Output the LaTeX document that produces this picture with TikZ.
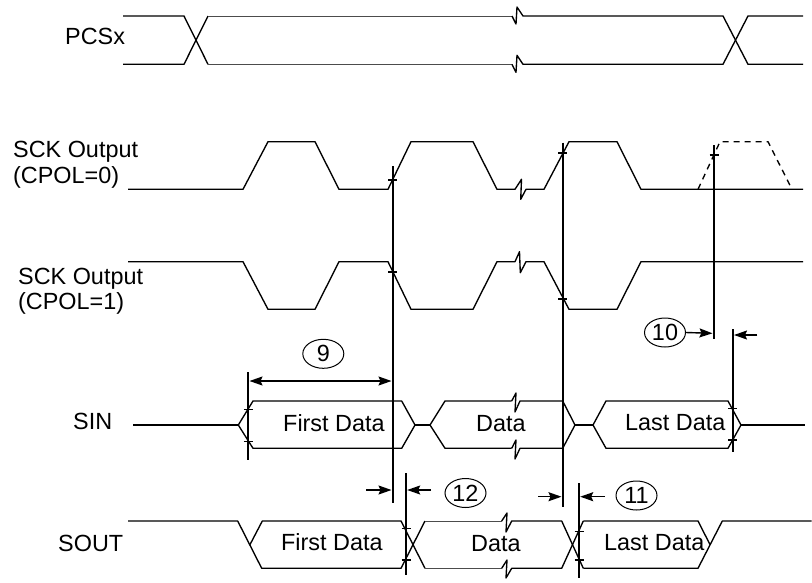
\documentclass[tikz,border=0pt]{standalone}
\usepackage{fontspec}
\setmainfont{Liberation Sans}
\usetikzlibrary{arrows.meta,shapes.geometric}
\tikzset{
  sig/.style={line width=1.35pt, line join=round},
  thin/.style={line width=1pt, line join=round, black!70},
  vline/.style={line width=1.8pt},
  tickm/.style={line width=1.3pt},
  dimarr/.style={line width=1.4pt, -{Stealth[length=13pt,width=9pt,inset=2pt]}},
  dimboth/.style={line width=1.4pt, {Stealth[length=13pt,width=9pt,inset=2pt]}-{Stealth[length=13pt,width=9pt,inset=2pt]}},
  num/.style={ellipse, draw, line width=1pt, minimum width=41pt, minimum height=29pt, inner sep=0pt, font=\fontsize{23.4}{27}\selectfont},
  lbl/.style={anchor=base west, inner sep=0pt, font=\fontsize{23.4}{28}\selectfont},
}
\begin{document}
\begin{tikzpicture}[x=1pt,y=-1pt]
\useasboundingbox (0,0) rectangle (812,582);
% ---------- labels ----------
\node[lbl] (lpcs) at (65,44) {PCSx};
\node[lbl] (lsck0a) at (13,157) {SCK Output};
\node[lbl] (lsck0b) at (13,183) {(CPOL=0)};
\node[lbl] (lsck1a) at (18,284) {SCK Output};
\node[lbl] (lsck1b) at (18,309) {(CPOL=1)};
\node[lbl] (lsin) at (73,429.5) {SIN};
\node[lbl] (lsout) at (58,551.5) {SOUT};
% ---------- PCSx ----------
\draw[sig] (123,16) -- (184,16) -- (208,64.3);
\draw[sig] (123,64.3) -- (184,64.3) -- (208,16);
\draw[thin] (208,16) -- (512,16);
\draw[thin] (208,64.3) -- (512,64.3);
\draw[sig] (512,16) -- (516,24) -- (517,7) -- (523,16) -- (723,16) -- (748,64.3) -- (803,64.3);
\draw[sig] (512,64.3) -- (516,72.3) -- (517,55.3) -- (523,64.3) -- (723,64.3) -- (748,16) -- (803,16);
% ---------- SCK CPOL=0 ----------
\draw[sig] (128,189.3) -- (243,189.3) -- (268,141.7) -- (315,141.7) -- (339,189.3) -- (388,189.3)
  -- (411,141.7) -- (473,141.7) -- (497,189.3) -- (515,189.3) -- (521.5,179.3) -- (520.7,199.3)
  -- (526,189.3) -- (544,189.3) -- (569,141.7) -- (617,141.7) -- (641,189.3) -- (803,189.3);
\draw[sig, dashed, dash pattern=on 6pt off 5pt] (698,189.3) -- (720,141.7) -- (768,141.7) -- (792,189.3);
% ---------- SCK CPOL=1 ----------
\draw[sig] (128,261.7) -- (243,261.7) -- (268,309.3) -- (315,309.3) -- (339,261.7) -- (388,261.7)
  -- (411,309.3) -- (473,309.3) -- (497,261.7) -- (515,261.7) -- (519.5,251.7) -- (520.3,272.7)
  -- (526,261.7) -- (544,261.7) -- (569,309.3) -- (617,309.3) -- (641,261.7) -- (803,261.7);
% ---------- SIN ----------
\draw[sig] (133,425) -- (238.3,425);
\draw[sig] (238.3,425) -- (253,401) -- (401.7,401) -- (415,425) -- (401.7,448.3) -- (253,448.3) -- cycle;
\node[lbl] (sin1) at (283,431.5) {First Data};
\draw[sig] (415,425) -- (430,425);
\draw[sig] (511.7,401) -- (445,401) -- (430,425) -- (445,448.3) -- (511.7,448.3);
\draw[sig] (511.7,401) -- (516,393) -- (515,412) -- (520,401) -- (562.7,401) -- (575,425)
  -- (562.7,448.3) -- (520,448.3) -- (515,459) -- (516,440) -- (511.7,448.3);
\node[lbl] (sin2) at (476,431.5) {Data};
\draw[sig] (575,425) -- (593,425);
\draw[sig] (593,425) -- (606,401) -- (728,401) -- (741,425) -- (728,448.3) -- (606,448.3) -- cycle;
\node[lbl] (sin3) at (625,430.5) {Last Data};
\draw[sig] (741,425) -- (805,425);
% ---------- SOUT ----------
\draw[sig] (128,521) -- (237.7,521) -- (261.7,568.3) -- (401,568.3) -- (425,521);
\draw[sig] (250,544.6) -- (262.3,521) -- (401,521) -- (425,568.3);
\node[lbl] (sout1) at (281,550.5) {First Data};
\draw[thin] (425,521) -- (501.7,521);
\draw[thin] (425,568.3) -- (501.7,568.3);
\draw[sig] (501.7,521) -- (507,513) -- (506,532) -- (511.7,521) -- (561.7,521) -- (583.3,568.3);
\draw[sig] (501.7,568.3) -- (507,560) -- (506,578) -- (511.7,568.3) -- (561.7,568.3) -- (583.3,521);
\node[lbl] (sout2) at (471,551) {Data};
\draw[sig] (583.3,521) -- (698,521) -- (710,544.6);
\draw[sig] (583.3,568.3) -- (698,568.3) -- (722.3,521) -- (811.7,521);
\node[lbl] (sout3) at (604,550.5) {Last Data};
% ---------- vertical reference lines ----------
\coordinate (v0t) at (248.3,372); \coordinate (v0b) at (248.3,460);
\coordinate (v1t) at (392.7,166); \coordinate (v1b) at (392.7,503);
\coordinate (v2t) at (562.7,142.7); \coordinate (v2b) at (562.7,506.7);
\coordinate (v3t) at (714,145); \coordinate (v3b) at (714,339.3);
\coordinate (v4t) at (732.7,329.3); \coordinate (v4b) at (732.7,451.7);
\coordinate (v5t) at (406,473); \coordinate (v5b) at (406,575);
\coordinate (v6t) at (579,483); \coordinate (v6b) at (579,578);
\foreach \a in {0,...,6} { \draw[vline] (v\a t) -- (v\a b); }
% ticks
\foreach \x/\y in {392.7/180, 392.7/272, 562.7/153, 562.7/299, 714/155,
                   248.3/409.5, 248.3/441.5, 732.7/408.5, 732.7/440,
                   406/528.5, 406/560, 579/531.5, 579/560}
  { \draw[tickm] (\x-4.5,\y) -- (\x+4.5,\y); }
% ---------- timing parameters ----------
\node[num] (n9) at (323.3,353.8) {9};
\coordinate (a9l) at (249.5,381); \coordinate (a9r) at (391.5,381);
\draw[dimboth] (a9l) -- (a9r);
\node[num] (n10) at (665,332.5) {10};
\coordinate (a10a) at (712.5,333.3); \coordinate (a10b) at (734,335);
\draw[dimarr] (n10.east) -- (a10a);
\draw[dimarr] (757.3,335) -- (a10b);
\node[num] (n12) at (465.5,493) {12};
\coordinate (a12a) at (391.5,490); \coordinate (a12b) at (407.2,490);
\draw[dimarr] (366,490) -- (a12a);
\draw[dimarr] (431,490) -- (a12b);
\node[num] (n11) at (636.5,495.5) {11};
\coordinate (a11a) at (561.5,496.7); \coordinate (a11b) at (580.2,496.7);
\draw[dimarr] (538,496.7) -- (a11a);
\draw[dimarr] (605,496.7) -- (a11b);
\end{tikzpicture}
\end{document}
